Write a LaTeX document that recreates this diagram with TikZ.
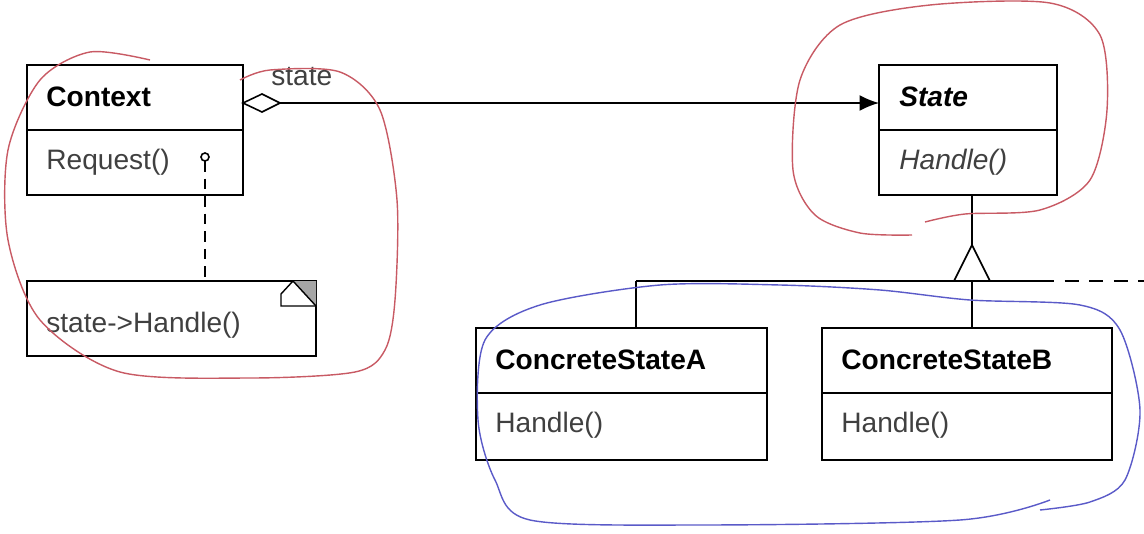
\documentclass[tikz,border=0pt]{standalone}
\usepackage{fontspec}
\setmainfont{Liberation Sans}
\usetikzlibrary{arrows.meta}
\begin{document}
\begin{tikzpicture}[x=0.02cm,y=-0.02cm,
  box/.style={draw,line width=1pt},
  lbl/.style={anchor=west,font=\fontsize{16}{18}\selectfont,inner sep=0pt},
  red/.style={draw={rgb,255:red,200;green,90;blue,100},line width=0.8pt},
  blu/.style={draw={rgb,255:red,90;green,90;blue,200},line width=0.8pt}]
\useasboundingbox (0,0) rectangle (1144,534);
% Context
\draw[box] (27,65) rectangle (243,195); \draw[box] (27,130)--(243,130);
\node[lbl,font=\fontsize{16}{18}\selectfont\bfseries] (ctx) at (46,97) {Context};
\node[lbl,font=\fontsize{16}{18}\selectfont\color{black!75}] (req) at (46,162) {Request()};
\coordinate (ctxR) at (243,103);
% State
\draw[box] (879,65) rectangle (1057,195); \draw[box] (879,130)--(1057,130);
\node[lbl,font=\fontsize{16}{18}\selectfont\bfseries\itshape] (st) at (899,97) {State};
\node[lbl,font=\fontsize{16}{18}\selectfont\itshape\color{black!75}] (sh) at (899,162) {Handle()};
\coordinate (stL) at (879,103);
% Concrete A
\draw[box] (476,328) rectangle (767,460); \draw[box] (476,393)--(767,393);
\node[lbl,font=\fontsize{16}{18}\selectfont\bfseries] (ca) at (495,360) {ConcreteStateA};
\node[lbl,font=\fontsize{16}{18}\selectfont\color{black!75}] (ha) at (495,425) {Handle()};
% Concrete B
\draw[box] (822,328) rectangle (1112,460); \draw[box] (822,393)--(1112,393);
\node[lbl,font=\fontsize{16}{18}\selectfont\bfseries] (cb) at (841,360) {ConcreteStateB};
\node[lbl,font=\fontsize{16}{18}\selectfont\color{black!75}] (hb) at (841,425) {Handle()};
% note
\draw[box] (27,281) rectangle (316,356);
\fill[gray!70] (293,281)--(316,281)--(316,306)--cycle;
\fill[white] (293,281)--(316,306)--(281,306)--(281,294)--cycle;
\draw[line width=0.8pt] (293,281)--(316,306);
\draw[line width=0.8pt] (293,281)--(281,294)--(281,306)--(316,306);
\node[lbl,font=\fontsize{16}{18}\selectfont\color{black!75}] (note) at (46,325) {state->Handle()};
% aggregation
\draw[line width=0.9pt,-{Latex[length=11pt,width=9pt]}] (280,103)--(stL);
\draw[line width=0.9pt,fill=white] (ctxR)--(262,94)--(280,103)--(262,112)--cycle;
\node[lbl,font=\fontsize{16}{18}\selectfont\color{black!75}] (stlbl) at (271,77) {state};
% note link
\draw[line width=0.9pt] (205,157) circle (4);
\draw[line width=0.9pt,dash pattern=on 6pt off 4pt] (205,161)--(205,281);
% inheritance
\draw[line width=1pt] (972,195)--(972,245);
\draw[line width=0.9pt,fill=white] (972,245)--(954,281)--(990,281)--cycle;
\draw[line width=1pt] (636,281)--(1040,281);
\draw[line width=1pt,dash pattern=on 8pt off 6pt] (1040,281)--(1144,281);
\draw[line width=1pt] (636,281)--(636,328);
\draw[line width=1pt] (972,281)--(972,328);
% freehand
\draw[red] plot[smooth] coordinates {(240,80)(270,70)(340,72)(380,110)(397,200)(395,300)(385,350)(355,372)(250,378)(120,372)(40,320)(8,240)(8,150)(40,80)(90,52)(150,60)};
\draw[red] plot[smooth] coordinates {(912,235)(860,233)(815,215)(793,170)(800,80)(840,25)(930,5)(1050,3)(1100,35)(1107,110)(1090,180)(1040,210)(965,214)(925,222)};
\draw[blu] plot[smooth] coordinates {(1050,500)(960,520)(700,525)(530,520)(495,480)(478,420)(485,340)(540,305)(660,285)(780,285)(880,290)(970,300)(1080,305)(1120,330)(1140,410)(1125,480)(1090,502)(1040,510)};
\end{tikzpicture}
\end{document}
